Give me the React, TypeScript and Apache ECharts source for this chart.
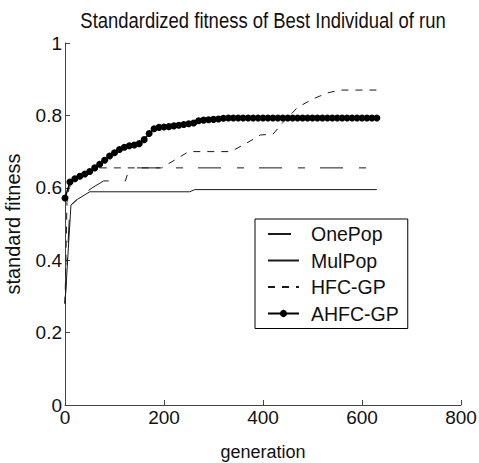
import React, { useEffect, useRef } from "react";
import * as echarts from "echarts";

const titleText = "Standardized fitness of Best Individual of run";
const xName = "generation";
const yName = "standard fitness";
const seriesNames = ["OnePop", "MulPop", "HFC-GP", "AHFC-GP"];

const xTicks = { min: 0, max: 800, interval: 200 };
const yTicks = { min: 0, max: 1, interval: 0.2 };

const onePopX = [0, 10, 30, 55, 78, 122, 130, 630];
const onePopY = [0.28, 0.55, 0.575, 0.6, 0.619, 0.619, 0.655, 0.655];

const mulPopX = [0, 12, 25, 50, 252, 262, 630];
const mulPopY = [0.28, 0.552, 0.568, 0.589, 0.589, 0.595, 0.595];

const hfcX = [0, 4, 8, 20, 40, 60, 195, 250, 335, 365, 395, 420, 440, 470, 500, 530, 555, 630];
const hfcY = [0.28, 0.56, 0.6, 0.62, 0.64, 0.655, 0.655, 0.7, 0.7, 0.722, 0.746, 0.748, 0.78, 0.822, 0.845, 0.862, 0.87, 0.87];

const ahfcX = [
  0, 10, 20, 30, 40, 50, 60, 70, 80, 90, 100, 110, 120, 130, 140, 150, 160, 170, 180, 190,
  200, 210, 220, 230, 240, 250, 260, 270, 280, 290, 300, 310, 320, 330, 340, 350, 360, 370, 380, 390,
  400, 410, 420, 430, 440, 450, 460, 470, 480, 490, 500, 510, 520, 530, 540, 550, 560, 570, 580, 590,
  600, 610, 620, 630,
];
const ahfcY = [
  0.572, 0.616, 0.625, 0.632, 0.638, 0.645, 0.655, 0.665, 0.676, 0.688, 0.697, 0.706, 0.712, 0.716, 0.718, 0.722, 0.733, 0.75, 0.763, 0.767,
  0.768, 0.769, 0.771, 0.773, 0.775, 0.777, 0.779, 0.785, 0.787, 0.788, 0.789, 0.79, 0.792, 0.793, 0.793, 0.793, 0.793, 0.793, 0.793, 0.793,
  0.793, 0.793, 0.793, 0.793, 0.793, 0.793, 0.793, 0.793, 0.793, 0.793, 0.793, 0.793, 0.793, 0.793, 0.793, 0.793, 0.793, 0.793, 0.793, 0.793,
  0.793, 0.793, 0.793, 0.793,
];

function zip(xs: number[], ys: number[]) {
  return xs.map((x, i) => [x, ys[i]]);
}

export default function App() {
  const ref = useRef<HTMLDivElement>(null);
  useEffect(() => {
    document.body.style.margin = "0";
    if (!ref.current) return;
    const family = "'Liberation Sans', Arial, sans-serif";
    const chart = echarts.init(ref.current, null, { renderer: "svg" });
    const lineColor = "#1a1a1a";
    const axisColor = "#444";
    chart.setOption({
      animation: false,
      backgroundColor: "#fff",
      grid: { left: 65, right: 18, top: 43, bottom: 58, outerBoundsMode: "none", containLabel: false },
      graphic: [
        {
          type: "text",
          x: 263,
          y: 20,
          scaleX: 0.84,
          style: {
            text: titleText,
            fontSize: 22,
            fontFamily: family,
            fill: "#111",
            align: "center",
            verticalAlign: "middle",
          },
        },
      ],
      xAxis: {
        type: "value",
        min: xTicks.min,
        max: xTicks.max,
        interval: xTicks.interval,
        name: xName,
        nameLocation: "middle",
        nameGap: 38,
        nameTextStyle: { fontSize: 18, fontFamily: family, color: "#111" },
        axisLine: { show: true, lineStyle: { color: axisColor, width: 1 } },
        axisTick: { show: true, inside: true, length: 5, lineStyle: { color: axisColor } },
        axisLabel: { fontSize: 19, fontFamily: family, color: "#111", margin: 3 },
        splitLine: { show: false },
      },
      yAxis: {
        type: "value",
        min: yTicks.min,
        max: yTicks.max,
        interval: yTicks.interval,
        name: yName,
        nameLocation: "middle",
        nameGap: 42,
        nameTextStyle: { fontSize: 20, fontFamily: family, color: "#111" },
        axisLine: { show: true, lineStyle: { color: axisColor, width: 1 } },
        axisTick: { show: true, inside: true, length: 5, lineStyle: { color: axisColor } },
        axisLabel: { fontSize: 19, fontFamily: family, color: "#111", margin: 3 },
        splitLine: { show: false },
      },
      legend: {
        left: 255,
        top: 219,
        orient: "vertical",
        selectedMode: false,
        padding: [5, 9, 5, 12],
        itemGap: 6.5,
        itemWidth: 31,
        itemHeight: 9,
        borderColor: "#000",
        borderWidth: 1,
        backgroundColor: "#fff",
        textStyle: { fontSize: 19.5, fontFamily: family, color: "#111", padding: [0, 0, 0, 7] },
        data: [
          { name: seriesNames[0], itemStyle: { opacity: 0 } },
          { name: seriesNames[1], itemStyle: { opacity: 0 } },
          { name: seriesNames[2], itemStyle: { opacity: 0 } },
          { name: seriesNames[3] },
        ],
      },
      series: [
        {
          name: seriesNames[0],
          type: "line",
          data: zip(onePopX, onePopY),
          symbol: "none",
          itemStyle: { color: lineColor },
          lineStyle: { color: lineColor, width: 1, type: [23, 16, 7, 15] },
        },
        {
          name: seriesNames[1],
          type: "line",
          data: zip(mulPopX, mulPopY),
          symbol: "none",
          itemStyle: { color: lineColor },
          lineStyle: { color: lineColor, width: 1, type: "solid" },
        },
        {
          name: seriesNames[2],
          type: "line",
          data: zip(hfcX, hfcY),
          symbol: "none",
          itemStyle: { color: lineColor },
          lineStyle: { color: lineColor, width: 1, type: [7, 7] },
        },
        {
          name: seriesNames[3],
          type: "line",
          data: zip(ahfcX, ahfcY),
          symbol: "circle",
          symbolSize: 7,
          itemStyle: { color: "#000" },
          lineStyle: { color: "#000", width: 1.5 },
        },
      ],
    });
    return () => chart.dispose();
  }, []);
  return <div ref={ref} style={{ position: "fixed", left: 0, top: 0, width: 479, height: 463 }} />;
}
